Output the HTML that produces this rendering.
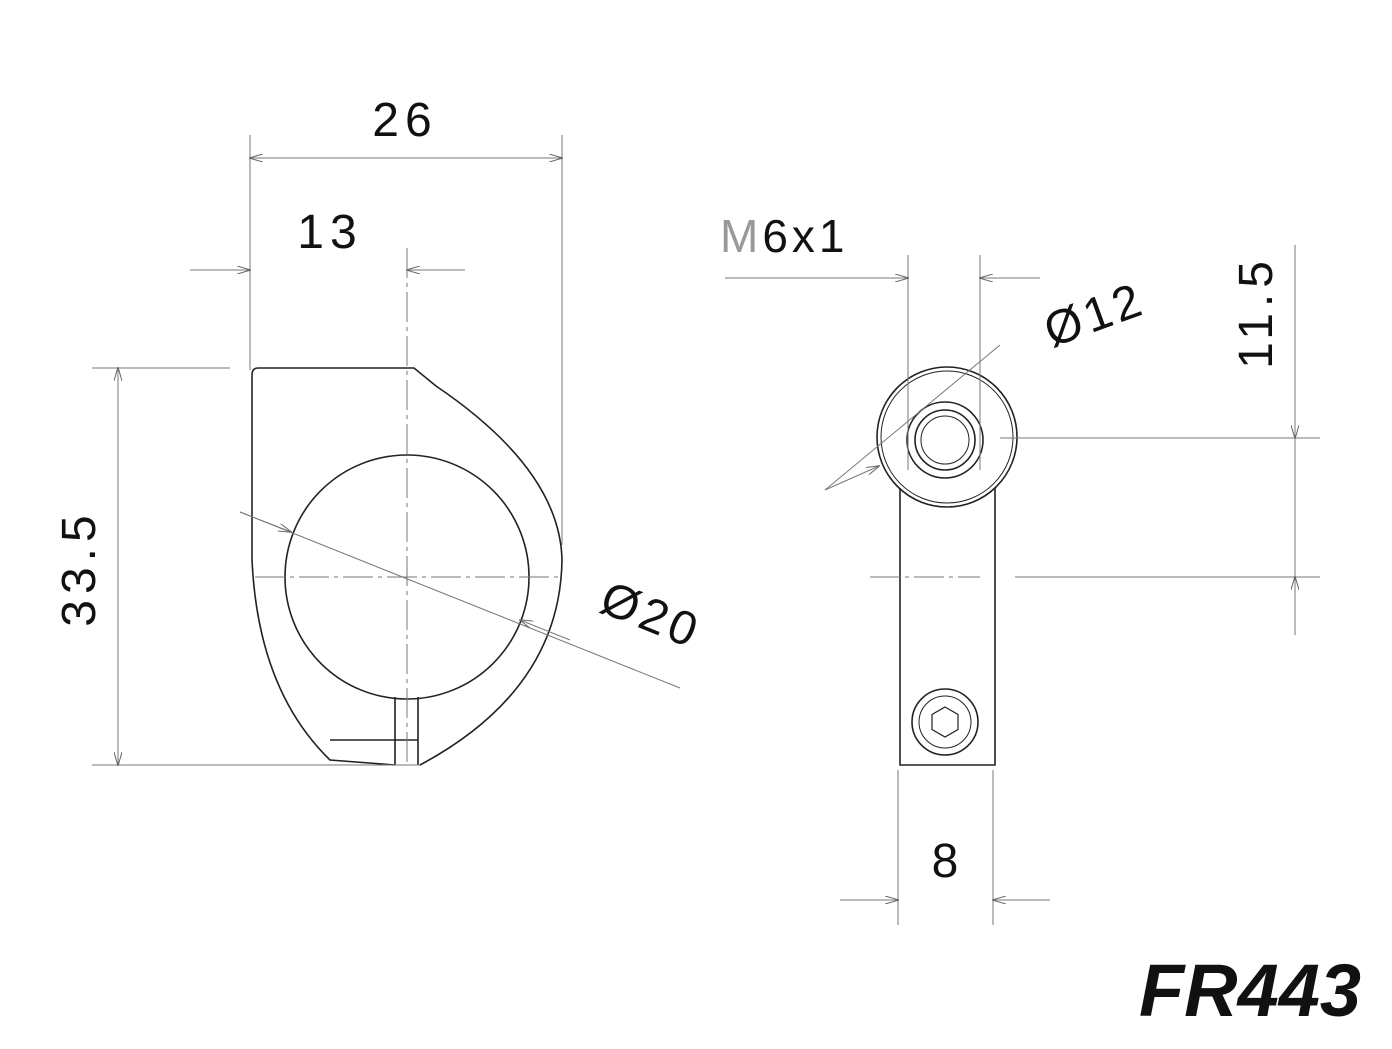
<!DOCTYPE html>
<html><head><meta charset="utf-8"><style>
html,body{margin:0;padding:0;background:#fff;}
svg{display:block;}
text{font-family:"Liberation Sans",sans-serif;fill:#111;}
</style></head><body>
<svg width="1392" height="1049" viewBox="0 0 1392 1049" xmlns="http://www.w3.org/2000/svg">
<defs>
<marker id="a" markerWidth="14" markerHeight="8" refX="13" refY="4" orient="auto-start-reverse" markerUnits="userSpaceOnUse"><path d="M0,0 L14,4 L0,8" fill="none" stroke="#666" stroke-width="1"/></marker>
</defs>
<g stroke="#222" stroke-width="1.6" fill="none">
<path d="M258,368 L414,368 L436,386 Q560,470 562,560 Q560,690 420,765 M252,375 Q252,368 258,368 M252,375 L252,560 Q258,690 330,760 L395,765"/>
<circle cx="407" cy="577" r="122"/>
<path d="M395,697 L395,765 M418,697 L418,765 M395,740 L418,740 M330,740 L395,740"/>
<circle cx="947" cy="437" r="70"/>
<circle cx="947" cy="437" r="66" stroke-width="1"/>
<circle cx="945" cy="440" r="38"/>
<circle cx="945" cy="440" r="30"/>
<circle cx="945" cy="440" r="24" stroke-width="1"/>
<path d="M900,488 L900,765 L995,765 L995,488"/>
<circle cx="945" cy="722" r="33"/>
<circle cx="945" cy="722" r="26" stroke-width="1"/>
<polygon points="945,707 958,714.5 958,729.5 945,737 932,729.5 932,714.5" stroke-width="1.2"/>
</g>
<g stroke="#777" stroke-width="1" fill="none">
<line x1="250" y1="135" x2="250" y2="370"/>
<line x1="562" y1="135" x2="562" y2="545"/>
<line x1="250" y1="158" x2="562" y2="158" marker-start="url(#a)" marker-end="url(#a)"/>
<line x1="190" y1="270" x2="250" y2="270" marker-end="url(#a)"/>
<line x1="465" y1="270" x2="407" y2="270" marker-end="url(#a)"/>
<line x1="407" y1="248" x2="407" y2="765" stroke-dasharray="30,5,4,5"/>
<line x1="255" y1="577" x2="560" y2="577" stroke-dasharray="30,5,4,5"/>
<line x1="92" y1="368" x2="230" y2="368"/>
<line x1="92" y1="765" x2="420" y2="765"/>
<line x1="118" y1="368" x2="118" y2="765" marker-start="url(#a)" marker-end="url(#a)"/>
<line x1="240" y1="512" x2="680" y2="688"/>
<line x1="240" y1="512" x2="291" y2="532" marker-end="url(#a)"/>
<line x1="570" y1="640" x2="520" y2="620" marker-end="url(#a)"/>
<line x1="908" y1="255" x2="908" y2="470"/>
<line x1="980" y1="255" x2="980" y2="470"/>
<line x1="725" y1="278" x2="908" y2="278" marker-end="url(#a)"/>
<line x1="1040" y1="278" x2="980" y2="278" marker-end="url(#a)"/>
<line x1="825" y1="490" x2="1000" y2="345"/>
<line x1="825" y1="490" x2="879" y2="466" marker-end="url(#a)"/>
<line x1="1000" y1="438" x2="1320" y2="438"/>
<line x1="1015" y1="577" x2="1320" y2="577"/>
<line x1="1295" y1="245" x2="1295" y2="438" marker-end="url(#a)"/>
<line x1="1295" y1="438" x2="1295" y2="577"/>
<line x1="1295" y1="635" x2="1295" y2="577" marker-end="url(#a)"/>
<line x1="870" y1="577" x2="980" y2="577" stroke-dasharray="30,5,4,5"/>
<line x1="898" y1="770" x2="898" y2="925"/>
<line x1="993" y1="770" x2="993" y2="925"/>
<line x1="840" y1="900" x2="898" y2="900" marker-end="url(#a)"/>
<line x1="1050" y1="900" x2="993" y2="900" marker-end="url(#a)"/>
</g>
<text x="405" y="136" font-size="48" text-anchor="middle" letter-spacing="6">26</text>
<text x="330" y="248" font-size="48" text-anchor="middle" letter-spacing="6">13</text>
<text transform="translate(95,568) rotate(-90)" font-size="48" text-anchor="middle" letter-spacing="6">33.5</text>
<text transform="translate(645,630) rotate(22)" font-size="48" text-anchor="middle" letter-spacing="4">Ø20</text>
<text x="720" y="252" font-size="46" letter-spacing="4"><tspan fill="#999">M</tspan>6x1</text>
<text transform="translate(1100,330) rotate(-20)" font-size="48" text-anchor="middle" letter-spacing="4">Ø12</text>
<text transform="translate(1272,312) rotate(-90)" font-size="48" text-anchor="middle" letter-spacing="6">11.5</text>
<text x="945" y="877" font-size="48" text-anchor="middle">8</text>
<text x="1250" y="1016" font-size="74" font-weight="bold" font-style="italic" text-anchor="middle" fill="#000">FR443</text>
</svg>
</body></html>
